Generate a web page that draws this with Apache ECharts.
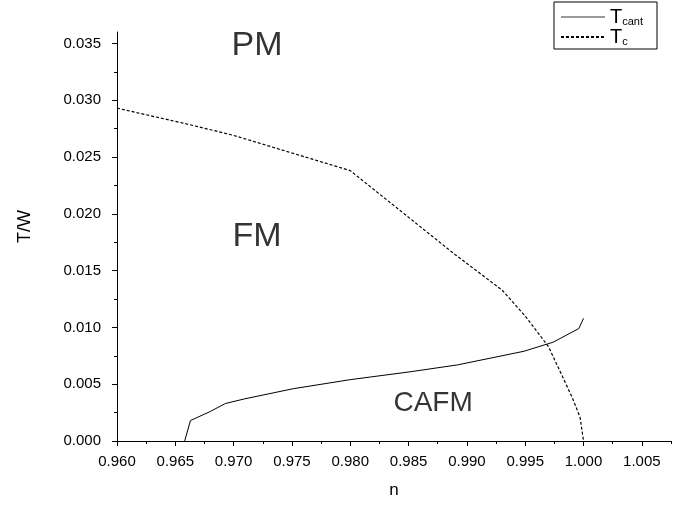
<!DOCTYPE html>
<html>
<head>
  <meta charset="utf-8" />
  <title>Phase diagram</title>
  <style>
    html, body { margin: 0; padding: 0; background: #fff; }
  </style>
  <script src="https://cdn.jsdelivr.net/npm/echarts@6/dist/echarts.min.js"></script>
</head>
<body>
  <div id="main" style="width: 688px; height: 505px;"></div>
  <script type="text/javascript">
    // T_c (dashed) curve
    var tcN = [0.960, 0.966, 0.970, 0.980, 0.989, 0.993, 0.995, 0.997, 0.999, 0.9997, 1.000];
    var tcT = [0.0293, 0.0279, 0.0269, 0.0238, 0.0164, 0.0133, 0.0110, 0.0083, 0.0039, 0.0021, 0.0000];

    // T_cant (solid) curve
    var cantN = [0.9658, 0.9663, 0.968, 0.9693, 0.9709, 0.9751, 0.980, 0.9852, 0.9892, 0.9949, 0.9974, 0.9996, 1.000];
    var cantT = [0.0000, 0.0018, 0.0026, 0.0033, 0.0037, 0.0046, 0.0054, 0.0061, 0.0067, 0.0079, 0.0087, 0.0099, 0.0108];

    // region labels [text, n, T]
    var regions = [['PM', 0.9720, 0.0348], ['FM', 0.9720, 0.0180], ['CAFM', 0.9871, 0.0033]];

    // ticks
    var xMajor = [0.960, 0.965, 0.970, 0.975, 0.980, 0.985, 0.990, 0.995, 1.000, 1.005];
    var xMinor = [0.9625, 0.9675, 0.9725, 0.9775, 0.9825, 0.9875, 0.9925, 0.9975, 1.0025, 1.0075];
    var yMajor = [0.000, 0.005, 0.010, 0.015, 0.020, 0.025, 0.030, 0.035];
    var yMinor = [0.0025, 0.0075, 0.0125, 0.0175, 0.0225, 0.0275, 0.0325];

    function pairs(xs, ys) {
      var out = [];
      for (var i = 0; i < xs.length; i++) out.push([xs[i], ys[i]]);
      return out;
    }

    var font = 'Liberation Sans, Arial, sans-serif';
    var xMin = 0.960, xMax = 1.0075, yMin = 0, yMax = 0.036;

    var myChart = echarts.init(document.getElementById('main'));

    var option = {
      animation: false,
      backgroundColor: '#fff',
      grid: { left: 117, right: 17, top: 32, bottom: 64 },
      legend: {
        right: 31,
        top: 2,
        orient: 'vertical',
        borderColor: '#000',
        borderWidth: 1,
        borderRadius: 0,
        padding: [5, 14, 2, 6],
        itemGap: 0,
        itemWidth: 44,
        itemHeight: 14,
        itemStyle: { opacity: 0 },
        data: [
          { name: 'Tcant', lineStyle: { color: '#999' } },
          { name: 'Tc' }
        ],
        formatter: function (name) {
          return name === 'Tcant' ? '{a|T}{b|cant}' : '{a|T}{b|c}';
        },
        textStyle: {
          fontFamily: font,
          color: '#000',
          rich: {
            a: { fontSize: 20, fontFamily: font, color: '#000', lineHeight: 20 },
            b: { fontSize: 11, fontFamily: font, color: '#000', padding: [9, 0, 0, 0] }
          }
        }
      },
      xAxis: [{
        type: 'value',
        position: 'bottom',
        min: xMin,
        max: xMax,
        name: 'n',
        nameLocation: 'middle',
        nameGap: 41,
        nameTextStyle: { fontFamily: font, fontSize: 17, color: '#000' },
        splitLine: { show: false },
        axisLine: { lineStyle: { color: '#000', width: 1 } },
        axisTick: { customValues: xMajor, length: 5, lineStyle: { color: '#000' } },
        axisLabel: {
          customValues: xMajor,
          margin: 13,
          fontFamily: font,
          fontSize: 15,
          color: '#000',
          formatter: function (v) { return v.toFixed(3); }
        }
      }, {
        type: 'value',
        position: 'bottom',
        min: xMin,
        max: xMax,
        splitLine: { show: false },
        axisLine: { show: false },
        axisLabel: { show: false },
        axisTick: { customValues: xMinor, length: 3, lineStyle: { color: '#000' } }
      }],
      yAxis: [{
        type: 'value',
        position: 'left',
        min: yMin,
        max: yMax,
        name: 'T/W',
        nameLocation: 'middle',
        nameGap: 83,
        nameRotate: 90,
        nameTextStyle: { fontFamily: font, fontSize: 18, color: '#000', padding: [0, 0, 0, 20] },
        splitLine: { show: false },
        axisLine: { show: true, lineStyle: { color: '#000', width: 1 } },
        axisTick: { show: true, customValues: yMajor, length: 5, lineStyle: { color: '#000' } },
        axisLabel: {
          customValues: yMajor,
          margin: 16,
          fontFamily: font,
          fontSize: 15,
          color: '#000',
          formatter: function (v) { return v.toFixed(3); }
        }
      }, {
        type: 'value',
        position: 'left',
        min: yMin,
        max: yMax,
        splitLine: { show: false },
        axisLine: { show: false },
        axisLabel: { show: false },
        axisTick: { show: true, customValues: yMinor, length: 3, lineStyle: { color: '#000' } }
      }],
      series: [{
        name: 'Tcant',
        type: 'line',
        symbol: 'none',
        data: pairs(cantN, cantT),
        lineStyle: { color: '#000', width: 1 },
        itemStyle: { color: '#000' }
      }, {
        name: 'Tc',
        type: 'line',
        symbol: 'none',
        data: pairs(tcN, tcT),
        lineStyle: { color: '#000', width: 1.2, type: [3, 2] },
        itemStyle: { color: '#000' }
      }, {
        name: 'regions',
        type: 'scatter',
        symbolSize: 0,
        silent: true,
        data: regions.map(function (r) { return { name: r[0], value: [r[1], r[2]] }; }),
        label: {
          show: true,
          position: 'inside',
          fontFamily: font,
          color: '#000',
          formatter: function (p) { return p.name; },
          fontSize: 34
        }
      }]
    };
    // CAFM is printed a bit smaller
    option.series[2].data[2].label = { fontSize: 28, color: '#000' };

    myChart.setOption(option);
  </script>
</body>
</html>
